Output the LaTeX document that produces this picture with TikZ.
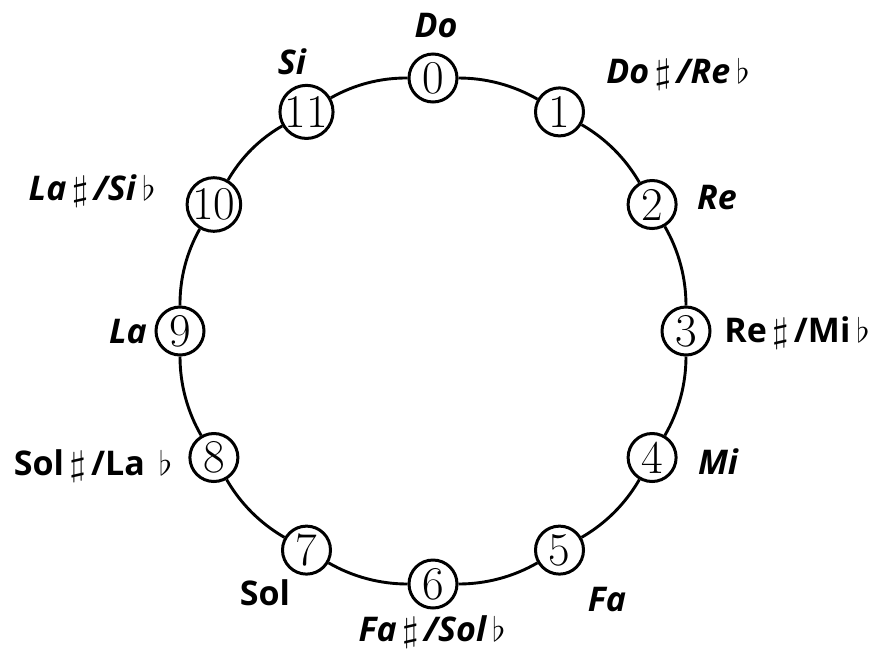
\documentclass[tikz,border=0pt]{standalone}
\usepackage{graphicx}
\usepackage{fontspec}
\newfontfamily\labfont{Open Sans}
\newcommand\shp{\hspace{5pt}{\fontsize{24.88}{24.88}\selectfont\scalebox{1.8}[1.4]{$\sharp$}}\hspace{5pt}}
\newcommand\flt{\hspace{6pt}{\fontsize{24.88}{24.88}\selectfont\scalebox{1.4}[1.35]{$\flat$}}}
\begin{document}
\begin{tikzpicture}[x=1pt,y=-1pt,
  num/.style={circle,draw,line width=3pt,minimum size=48pt,inner sep=0pt,fill=white,font=\fontsize{47}{47}\selectfont},
  labi/.style={font=\labfont\bfseries\itshape\fontsize{34}{34}\selectfont,inner sep=0pt},
  labu/.style={font=\labfont\bfseries\fontsize{34}{34}\selectfont,inner sep=0pt},
  link/.style={line width=2.9pt,bend left=15,looseness=0.87}]
\useasboundingbox (0,0) rectangle (878,649);
\foreach \k in {0,...,11}
  \node[num] (n\k) at ({433+253*sin(30*\k)},{331-253*cos(30*\k)}) {\k};
\foreach \k in {0,...,11}{
  \pgfmathtruncatemacro\j{mod(\k+1,12)}
  \draw[link] (n\k) to (n\j);
}
\node[labi] (l0) at (436,26) {Do};
\node[labi] (l1) at (678,74) {Do\shp/Re\flt};
\node[labi] (l2) at (717,198) {Re};
\node[labu] (l3) at (797,333) {Re\shp/Mi\flt};
\node[labi] (l4) at (718,462) {Mi};
\node[labi] (l5) at (607,600) {Fa};
\node[labi] (l6) at (432,632) {Fa\shp/Sol\flt};
\node[labu] (l7) at (265,593) {Sol};
\node[labu] (l8) at (93,466) {Sol\shp/La\hspace{8pt}\flt};
\node[labi] (l9) at (128,332) {La};
\node[labi] (l10) at (92,191) {La\shp/Si\flt};
\node[labi] (l11) at (292,62) {Si};
\end{tikzpicture}
\end{document}
